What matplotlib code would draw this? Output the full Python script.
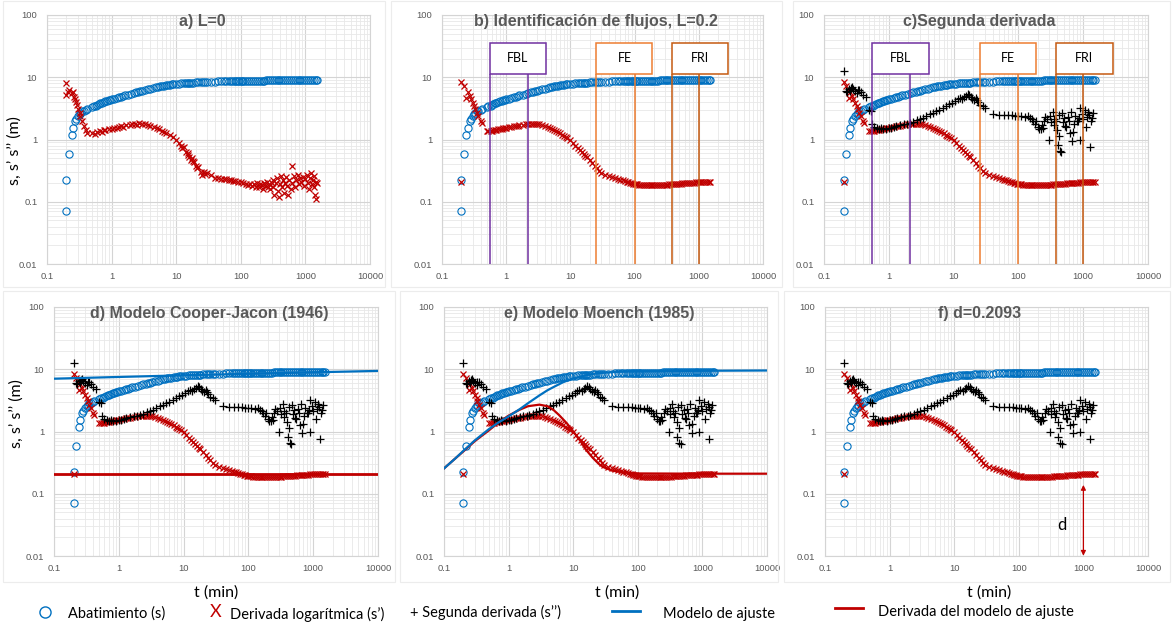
import matplotlib
matplotlib.use('Agg')
import matplotlib.pyplot as plt
from matplotlib.lines import Line2D
from matplotlib.patches import Rectangle
from matplotlib.ticker import LogLocator, NullFormatter

BLUE = '#0070C0'
RED = '#C00000'
GRAY = '#595959'

# drawdown and smoothed log-derivative (L=0.2) share the same times (min)
t_obs = [0.2, 0.2, 0.22, 0.24, 0.25, 0.27, 0.28, 0.3, 0.32, 0.33, 0.35, 0.37, 0.4, 0.42,
         0.5, 0.53, 0.57, 0.6, 0.63, 0.67, 0.7, 0.75, 0.8, 0.85,
         0.9, 0.95, 1.0, 1.1, 1.2, 1.3, 1.4, 1.5, 1.6, 1.8,
         2.0, 2.2, 2.4, 2.6, 2.8, 3.0, 3.3, 3.6, 4.0, 4.4,
         4.8, 5.2, 5.6, 6.0, 6.5, 7.0, 7.5, 8.0, 8.5, 9.0,
         10, 11, 12, 13, 14, 15, 16, 17, 18, 20,
         22, 24, 26, 28, 30, 35, 40, 45, 50, 55,
         60, 65, 70, 75, 80, 85, 90, 95, 100,
         105, 110, 118, 126, 135, 145, 155, 165, 177, 190,
         203, 217, 232, 248, 265, 283, 303, 324, 347, 371,
         397, 425, 455, 487, 521, 557, 596, 638, 683, 731,
         782, 837, 896, 959, 1026, 1098, 1175, 1257, 1345, 1440, 1500]
s_obs = [0.072, 0.22, 0.59, 1.17, 1.52, 1.95, 2.15, 2.36, 2.55, 2.68, 2.82, 2.92, 3.02, 3.08,
         3.3, 3.4, 3.5, 3.6, 3.7, 3.8, 3.88, 3.98, 4.08, 4.17,
         4.25, 4.33, 4.4, 4.55, 4.68, 4.8, 4.9, 5.0, 5.1, 5.28,
         5.45, 5.6, 5.73, 5.85, 5.97, 6.08, 6.25, 6.4, 6.58, 6.74,
         6.88, 7.0, 7.11, 7.2, 7.32, 7.42, 7.5, 7.58, 7.65, 7.71,
         7.8, 7.88, 7.95, 8.0, 8.05, 8.1, 8.14, 8.18, 8.21, 8.27,
         8.32, 8.36, 8.39, 8.42, 8.44, 8.49, 8.52, 8.55, 8.58, 8.6,
         8.62, 8.64, 8.66, 8.67, 8.68, 8.7, 8.71, 8.72, 8.73,
         8.74, 8.75, 8.76, 8.77, 8.78, 8.79, 8.8, 8.81, 8.82, 8.83,
         8.84, 8.85, 8.86, 8.87, 8.88, 8.89, 8.9, 8.91, 8.92, 8.93,
         8.94, 8.95, 8.96, 8.97, 8.98, 8.99, 9.0, 9.01, 9.02, 9.03,
         9.04, 9.05, 9.06, 9.07, 9.08, 9.09, 9.1, 9.11, 9.12, 9.13, 9.14]
ds_L02 = [0.21, 8.3, 7.2, 4.6, 5.9, 5.0, 4.4, 3.8, 3.4, 3.1, 2.7, 2.4, 2.0, 1.85,
          1.36, 1.35, 1.36, 1.38, 1.4, 1.42, 1.44, 1.46, 1.48, 1.5,
          1.52, 1.53, 1.55, 1.58, 1.6, 1.63, 1.65, 1.67, 1.69, 1.72,
          1.75, 1.77, 1.79, 1.8, 1.8, 1.79, 1.77, 1.73, 1.66, 1.6,
          1.55, 1.49, 1.43, 1.38, 1.31, 1.25, 1.19, 1.14, 1.09, 1.05,
          0.98, 0.88, 0.8, 0.73, 0.68, 0.63, 0.59, 0.55, 0.52, 0.47,
          0.42, 0.38, 0.345, 0.315, 0.295, 0.265, 0.26, 0.25, 0.24, 0.232,
          0.226, 0.22, 0.215, 0.21, 0.205, 0.202, 0.199, 0.196, 0.194,
          0.192, 0.19, 0.188, 0.187, 0.186, 0.185, 0.184, 0.183, 0.183, 0.183,
          0.183, 0.184, 0.184, 0.185, 0.186, 0.187, 0.188, 0.189, 0.19, 0.191,
          0.192, 0.193, 0.194, 0.195, 0.196, 0.197, 0.198, 0.199, 0.2, 0.201,
          0.202, 0.203, 0.204, 0.205, 0.205, 0.206, 0.206, 0.207, 0.207, 0.208, 0.208]

# raw log-derivative (L=0)
t_L0 = [0.2, 0.2, 0.21, 0.22, 0.24, 0.25, 0.26, 0.27, 0.28, 0.29, 0.3, 0.32, 0.33, 0.35, 0.37, 0.4, 0.42,
        0.5, 0.55, 0.6, 0.65, 0.7, 0.75, 0.8, 0.9,
        1.0, 1.1, 1.2, 1.3, 1.4, 1.5, 1.7, 1.9, 2.1, 2.3, 2.5, 2.7,
        3.0, 3.3, 3.6, 4.0, 4.5, 5.0, 5.5, 6.0, 6.5, 7.0,
        8, 9, 10, 11, 12, 12.5, 13, 14, 15, 15.5,
        16, 17, 17.5, 18, 19, 20, 21, 22, 24, 25,
        27, 28, 30, 35, 40, 45, 50, 55, 60, 65,
        70, 75, 80, 90, 100,
        110, 120, 130, 140, 150, 160, 170, 180, 190, 200,
        210, 220, 230, 240, 250, 260, 270, 285, 300,
        310, 320, 330, 345, 360, 370, 385, 400, 415, 430,
        445, 460, 480, 500, 520, 540, 560, 590, 610, 630,
        660, 690, 720, 760, 790, 830, 870, 910, 950, 1000,
        1040, 1080, 1120, 1160, 1200, 1250, 1300, 1350, 1380, 1420,
        1450, 1480, 1500]
ds_L0 = [8.2, 5.2, 5.9, 6.3, 5.5, 5.7, 4.9, 4.4, 4.0, 3.6, 3.1, 2.7, 2.4, 1.96, 1.65, 1.4, 1.28,
         1.25, 1.22, 1.3, 1.35, 1.33, 1.4, 1.42, 1.45,
         1.5, 1.55, 1.52, 1.6, 1.62, 1.58, 1.68, 1.7, 1.75, 1.8, 1.74, 1.82,
         1.77, 1.75, 1.72, 1.66, 1.58, 1.52, 1.46, 1.39, 1.33, 1.27,
         1.18, 1.1, 0.98, 0.88, 0.8, 0.72, 0.75, 0.62, 0.56, 0.6,
         0.52, 0.47, 0.5, 0.45, 0.43, 0.38, 0.35, 0.36, 0.3, 0.27,
         0.3, 0.28, 0.29, 0.265, 0.245, 0.24, 0.235, 0.23, 0.232, 0.225,
         0.22, 0.218, 0.215, 0.21, 0.205,
         0.2, 0.19, 0.185, 0.195, 0.18, 0.19, 0.175, 0.2, 0.17, 0.19,
         0.185, 0.16, 0.2, 0.18, 0.21, 0.17, 0.19, 0.16, 0.2,
         0.22, 0.17, 0.13, 0.2, 0.24, 0.15, 0.12, 0.19, 0.26, 0.17,
         0.22, 0.14, 0.2, 0.25, 0.18, 0.13, 0.22, 0.16, 0.37, 0.2,
         0.26, 0.17, 0.22, 0.27, 0.19, 0.24, 0.21, 0.25, 0.18, 0.23,
         0.27, 0.2, 0.16, 0.24, 0.29, 0.19, 0.22, 0.26, 0.17, 0.13,
         0.21, 0.11, 0.2]

# second derivative
t_d2 = [0.2, 0.22, 0.23, 0.24, 0.25, 0.26, 0.27, 0.28, 0.3, 0.32,
        0.33, 0.35, 0.37, 0.4, 0.45, 0.5, 0.53, 0.55, 0.6, 0.65,
        0.7, 0.75, 0.8, 0.9, 1.0, 1.1, 1.2, 1.3, 1.5, 1.7,
        1.9, 2.1, 2.4, 2.7, 3.0, 3.4, 3.8, 4.3, 4.8, 5.4,
        6.0, 6.8, 7.6, 8.5, 9.5, 10.5, 11.5, 12.5, 13.5, 14.5,
        15.5, 16.5, 17.5, 18.5, 19.5, 21, 22, 23, 24, 26,
        28, 30, 40, 50, 60, 70, 80, 90, 100, 110,
        125, 140, 150, 160, 170, 180, 190, 200, 210, 220,
        230, 240, 250, 260, 280, 300, 310, 320, 340, 350,
        360, 380, 400, 410, 420, 430, 440, 460, 470, 490,
        510, 530, 550, 580, 600, 620, 650, 680, 700, 730,
        760, 800, 830, 860, 880, 900, 950, 1000, 1050, 1100,
        1150, 1200, 1250, 1280, 1300, 1350, 1400]
d2 = [12.5, 6.0, 5.8, 6.4, 6.0, 6.8, 7.0, 6.5, 6.0, 5.5,
      6.3, 6.2, 5.7, 5.2, 4.9, 3.0, 2.9, 1.8, 1.6, 1.55,
      1.5, 1.52, 1.48, 1.5, 1.52, 1.55, 1.58, 1.62, 1.68, 1.75,
      1.78, 1.85, 1.9, 2.05, 2.15, 2.25, 2.4, 2.55, 2.7, 2.85,
      3.0, 3.2, 3.4, 3.65, 3.9, 4.15, 4.4, 4.6, 4.5, 4.8,
      5.0, 5.3, 5.1, 4.9, 4.5, 4.3, 4.6, 4.3, 4.0, 3.6,
      3.5, 3.2, 2.6, 2.5, 2.45, 2.5, 2.45, 2.4, 2.42, 2.35,
      2.3, 2.4, 2.2, 2.1, 2.0, 1.8, 1.95, 1.6, 1.5, 1.45,
      1.7, 1.55, 2.0, 2.3, 2.15, 1.0, 2.4, 1.9, 2.8, 2.1,
      1.7, 1.95, 1.4, 0.82, 2.5, 1.15, 0.65, 0.62, 2.7, 1.9,
      2.2, 1.65, 1.6, 2.3, 2.0, 1.25, 2.8, 0.95, 1.3, 1.8,
      2.4, 2.0, 1.95, 2.2, 3.2, 1.0, 2.6, 2.1, 3.0, 1.6,
      2.3, 2.8, 2.5, 0.75, 1.95, 2.2, 2.7]

# fitted models
d_fit = 0.2093
t_cj = [0.1, 1, 10, 100, 1000, 10000]
s_cj = [7.05, 7.52, 7.99, 8.46, 8.93, 9.40]
ds_cj = [d_fit] * len(t_cj)

t_mch = [0.1, 0.15, 0.2, 0.3, 0.5, 0.7, 1, 1.5, 2, 3, 4, 5, 7, 10, 15, 20, 30, 50,
         100, 300, 1000, 10000]
s_mch = [0.255, 0.37, 0.49, 0.72, 1.1, 1.4, 1.75, 2.3, 2.85, 3.8, 4.6, 5.2, 6.2, 7.1,
         7.9, 8.4, 8.8, 9.1, 9.25, 9.35, 9.45, 9.55]
t_mch_d = [0.1, 0.15, 0.2, 0.3, 0.5, 0.7, 1, 1.5, 2, 3, 4, 5, 6, 8, 10, 13, 16, 20, 25,
           30, 40, 60, 100, 1000, 10000]
ds_mch = [0.255, 0.37, 0.48, 0.7, 1.05, 1.4, 1.8, 2.25, 2.55, 2.7, 2.55, 2.2, 1.85, 1.35,
          1.0, 0.7, 0.5, 0.38, 0.3, 0.265, 0.235, 0.22, 0.212, 0.21, 0.21]

# flow regime boxes (left, right of box; second vertical line)
flow_names = ['FBL', 'FE', 'FRI']
flow_left = [0.55, 25.5, 380]
flow_right = [4.1, 190, 2870]
flow_line2 = [2.15, 100, 1000]
flow_colors = ['#7030A0', '#ED7D31', '#C55A11']
box_lo, box_hi = 11.4, 35.2

x_ticks = [0.1, 1, 10, 100, 1000, 10000]
x_labels = ['0.1', '1', '10', '100', '1000', '10000']
y_ticks = [0.01, 0.1, 1, 10, 100]
y_labels = ['0.01', '0.1', '1', '10', '100']

W, H = 1172, 624
fig = plt.figure(figsize=(W / 100, H / 100), dpi=100)


def frame(l, t, r, b):
    fig.patches.append(Rectangle((l / W, 1 - b / H), (r - l) / W, (b - t) / H,
                                 transform=fig.transFigure, fill=False,
                                 edgecolor='#ececec', lw=0.8))


def new_axes(l, t, r, b, title):
    ax = fig.add_axes([l / W, 1 - b / H, (r - l) / W, (b - t) / H])
    ax.set_xscale('log')
    ax.set_yscale('log')
    ax.set_xlim(0.1, 10000)
    ax.set_ylim(0.01, 100)
    ax.set_xticks(x_ticks, x_labels)
    ax.set_yticks(y_ticks, y_labels)
    for axis in (ax.xaxis, ax.yaxis):
        axis.set_minor_locator(LogLocator(base=10, subs=range(2, 10)))
        axis.set_minor_formatter(NullFormatter())
    ax.grid(which='major', color='#d4d4d4', lw=0.8)
    ax.grid(which='minor', color='#e8e8e8', lw=0.6)
    ax.set_axisbelow(True)
    ax.tick_params(which='both', length=0)
    ax.tick_params(axis='x', labelsize=6.8, labelcolor=GRAY, pad=6)
    ax.tick_params(axis='y', labelsize=6.8, labelcolor=GRAY, pad=7)
    for lab in ax.get_xticklabels() + ax.get_yticklabels():
        lab.set_family('Liberation Sans')
    for sp in ax.spines.values():
        sp.set_color('#d4d4d4')
        sp.set_linewidth(0.8)
    ax.text(0.48, 0.972, title, transform=ax.transAxes, ha='center', va='center',
            fontsize=11.5, fontweight='bold', color=GRAY, family='Liberation Sans')
    return ax


def draw_data(ax, ds, t_ds, second=True):
    ax.plot(t_obs, s_obs, 'o', mfc='none', mec=BLUE, ms=5.2, mew=0.8, zorder=3)
    ax.plot(t_ds, ds, 'x', color=RED, ms=5, mew=0.9, zorder=4)
    if second:
        ax.plot(t_d2, d2, '+', color='black', ms=6, mew=0.9, zorder=5)


def draw_flows(ax):
    for name, x0, x1, x2, col in zip(flow_names, flow_left, flow_right, flow_line2, flow_colors):
        ax.add_patch(Rectangle((x0, box_lo), x1 - x0, box_hi - box_lo, facecolor='white',
                               edgecolor=col, lw=1.1, zorder=6))
        ax.vlines([x0, x2], 0.01, box_lo, colors=col, lw=1.1, zorder=6)
        ax.text((x0 * x1) ** 0.5, (box_lo * box_hi) ** 0.5, name, ha='center', va='center',
                fontsize=9, family='Lato', zorder=7)


for box in [(3, 1, 385, 287), (391, 1, 782, 287), (793, 1, 1170, 287),
            (3, 291, 395, 582), (400, 291, 778, 582), (784, 291, 1170, 582)]:
    frame(*box)

ax_a = new_axes(47, 15, 370, 264, 'a) L=0')
draw_data(ax_a, ds_L0, t_L0, second=False)

ax_b = new_axes(442, 15, 763, 264, 'b) Identificación de flujos, L=0.2')
draw_data(ax_b, ds_L02, t_obs, second=False)
draw_flows(ax_b)

ax_c = new_axes(824, 15, 1148, 264, 'c)Segunda derivada')
draw_data(ax_c, ds_L02, t_obs)
draw_flows(ax_c)

ax_d = new_axes(54, 307, 378, 556, 'd) Modelo Cooper-Jacon (1946)')
draw_data(ax_d, ds_L02, t_obs)
ax_d.plot(t_cj, s_cj, color=BLUE, lw=1.6, zorder=6)
ax_d.plot(t_cj, ds_cj, color=RED, lw=2.0, zorder=6)

ax_e = new_axes(444, 307, 767, 556, 'e) Modelo Moench (1985)')
draw_data(ax_e, ds_L02, t_obs)
ax_e.plot(t_mch_d, ds_mch, color=RED, lw=1.6, zorder=6)
ax_e.plot(t_mch, s_mch, color=BLUE, lw=1.6, zorder=6)

ax_f = new_axes(825, 307, 1148, 556, 'f) d=0.2093')
draw_data(ax_f, ds_L02, t_obs)
ax_f.annotate('', xy=(1000, d_fit), xytext=(1000, 0.0101),
              arrowprops=dict(arrowstyle='<|-|>', color=RED, lw=0.9,
                              mutation_scale=7, shrinkA=0, shrinkB=8), zorder=7)
ax_f.text(460, 0.031, 'd', ha='center', va='center', fontsize=12, family='Lato')

# axis titles
lab_kw = dict(fontsize=11.5, family='Lato', va='center', ha='center')
fig.text(15 / W, 1 - 151 / H, 's, s’ s’’ (m)', rotation=90, **lab_kw)
fig.text(17 / W, 1 - 414 / H, 's, s’ s’’ (m)', rotation=90, **lab_kw)
for xc in (216, 617, 989):
    fig.text(xc / W, 1 - 593 / H, 't (min)', **lab_kw)

# legend row
leg_kw = dict(fontsize=10.5, family='Lato', va='center', ha='left')
fig.add_artist(Line2D([45 / W], [1 - 612 / H], marker='o', ms=8, mfc='none', mec=BLUE,
                      mew=1.0, transform=fig.transFigure))
fig.text(68 / W, 1 - 614 / H, 'Abatimiento (s)', **leg_kw)
fig.text(216 / W, 1 - 612 / H, 'X', color=RED, fontsize=13, family='Lato',
         va='center', ha='center')
fig.text(230 / W, 1 - 614 / H, 'Derivada logarítmica (s’)', **leg_kw)
fig.text(410 / W, 1 - 612 / H, '+ Segunda derivada (s’’)', **leg_kw)
fig.add_artist(Line2D([612 / W, 640 / W], [1 - 611 / H] * 2, color=BLUE, lw=2,
                      transform=fig.transFigure))
fig.text(663 / W, 1 - 614 / H, 'Modelo de ajuste', **leg_kw)
fig.add_artist(Line2D([835 / W, 863 / W], [1 - 608 / H] * 2, color=RED, lw=2,
                      transform=fig.transFigure))
fig.text(878 / W, 1 - 612 / H, 'Derivada del modelo de ajuste', **leg_kw)

fig.savefig('out.png', dpi=100, facecolor='white')
